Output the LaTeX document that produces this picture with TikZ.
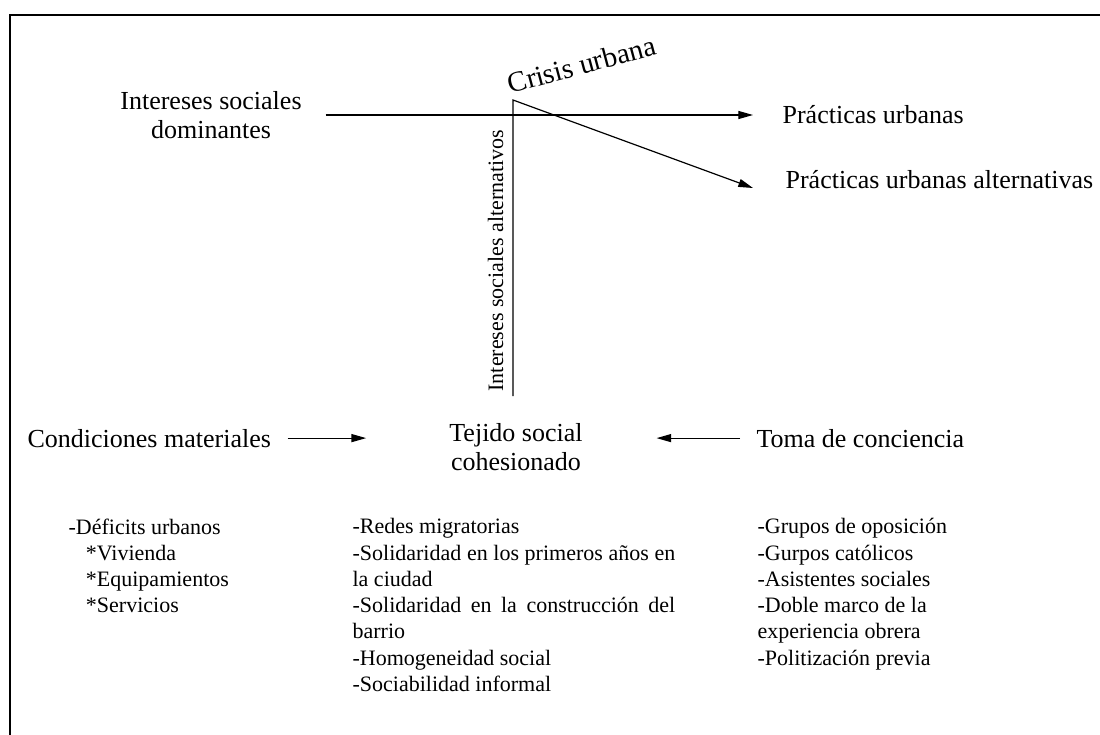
\documentclass[tikz,border=0pt]{standalone}
\usepackage{fontspec}
\setmainfont{Liberation Serif}
\usetikzlibrary{arrows.meta}

\begin{document}
\begin{tikzpicture}
  [x=0.75pt, y=-0.75pt, line width=0.9pt,
   >={Triangle[length=11pt,width=6pt]},
   big/.style={font=\fontsize{19.5}{22}\selectfont, inner sep=0pt},
   list/.style={font=\fontsize{16.5}{19.7}\selectfont, inner sep=0pt, anchor=north west, align=left}]
  \useasboundingbox (0,0) rectangle (1100,735);
  \draw[line width=1.6pt] (1100,15) -- (10,15) -- (10,735);

  \node[big, align=center] (ndom) at (211,115) {Intereses sociales\\dominantes};
  \node[big, anchor=west] (npu) at (782,115) {Prácticas urbanas};
  \node[big, anchor=base west] (npua) at (785,188) {Prácticas urbanas alternativas};
  \node[big, font=\fontsize{21.5}{24}\selectfont, rotate=15, anchor=base west]
    (ncris) at (510,94) {Crisis urbana};
  \node[font=\fontsize{16.5}{18}\selectfont, inner sep=0pt, rotate=90, anchor=base west]
    (nalt) at (503,392) {Intereses sociales alternativos};
  \coordinate (c) at (513,100);
  \coordinate (b) at (513,396);

  \node[big, anchor=base west] (ncond) at (27,447) {Condiciones materiales};
  \node[big, align=center] (ntej) at (516,447) {Tejido social\\cohesionado};
  \node[big, anchor=base west] (ntoma) at (756,447) {Toma de conciencia};

  \node[list] (nl1) at (68,518) {-Déficits urbanos\\\hbox to 13pt{}*Vivienda\\
    \hbox to 13pt{}*Equipamientos\\\hbox to 13pt{}*Servicios};
  \node[list, text width=242pt, align=justify] (nl2) at (352,518) {\tolerance=10000
    \hbadness=10000 -Redes migratorias\par
    -Solidaridad en los primeros años en\linebreak la ciudad\par
    -Solidaridad en la construcción del\linebreak barrio\par
    -Homogeneidad social\par
    -Sociabilidad informal};
  \node[list] (nl3) at (757,518) {-Grupos de oposición\\-Gurpos católicos\\
    -Asistentes sociales\\-Doble marco de la\\experiencia obrera\\-Politización previa};

  \draw[->, shorten <=17.5pt, shorten >=21.75pt] (ndom.east) -- (npu.west);
  \draw[->] (b) -- (c) -- ([xshift=-24pt]npua.base west);
  \draw[->, shorten <=12pt, shorten >=62pt] (ncond.east) -- (ncond.east -| ntej.west);
  \draw[->, shorten <=12pt, shorten >=55pt] (ntoma.west) -- (ntoma.west -| ntej.east);
\end{tikzpicture}
\end{document}
